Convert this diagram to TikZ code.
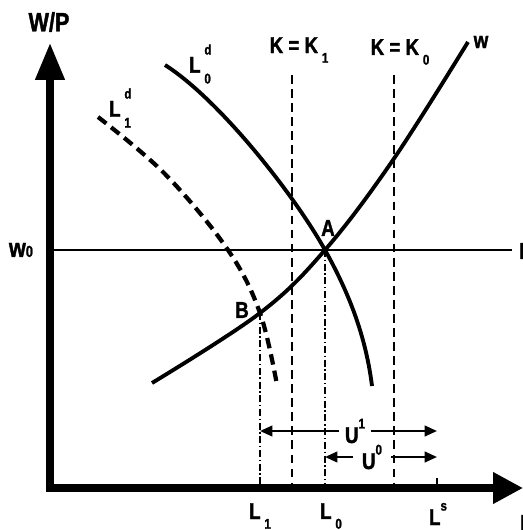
\documentclass[tikz,border=0pt]{standalone}
\usepackage{fontspec}
\setmainfont{Liberation Sans}[FakeStretch=0.82,BoldFeatures={FakeBold=1.5}]
\usetikzlibrary{arrows.meta}
% small indices placed as in the figure
\newcommand{\lowix}[1]{\,\raisebox{-0.8ex}{\footnotesize#1}}
\newcommand{\highix}[1]{\raisebox{1.2ex}{\footnotesize#1}}
\newcommand{\stackix}[2]{\,\makebox[0pt][l]{\raisebox{1.5ex}{\footnotesize#1}}\raisebox{-0.9ex}{\footnotesize#2}}
\tikzset{
  % heavy axes with big heads
  axisline/.style={line width=4pt,line join=miter,
    {Triangle[length=21pt,width=16pt]}-{Triangle[length=17pt,width=17pt]}},
  % demand / supply curves
  curve/.style={line width=2.2pt},
  dcurve/.style={line width=2.4pt,dash pattern=on 6pt off 3.5pt},
  % real wage line
  hline/.style={line width=0.8pt},
  % capital constraints
  kline/.style={line width=1pt,dash pattern=on 5pt off 3pt},
  % employment drop lines
  lline/.style={line width=1pt,dash pattern=on 4pt off 1.5pt on 0.8pt off 1.5pt},
  tickline/.style={line width=1.2pt},
  % unemployment arrows
  uarr/.style={-{Triangle[length=7pt,width=6pt]},line width=1.3pt},
  lbl/.style={font=\fontsize{13}{15}\selectfont\bfseries,inner sep=2pt},
}
\begin{document}
\begin{tikzpicture}[x=0.02cm,y=-0.02cm]
  \useasboundingbox (0,0) rectangle (523,530);
  \coordinate (O) at (50,488);
  \coordinate (ytip) at (50,43);
  \coordinate (xtip) at (523,488);
  \coordinate (A) at (325,250);
  \coordinate (B) at (260,313);
  \coordinate (L1) at (B |- O);
  \coordinate (L0) at (A |- O);
  \coordinate (Ls) at (437,488);
  \coordinate (K1top) at (292,75);
  \coordinate (K0top) at (394,75);
  \coordinate (wzero) at (50,250);
  \coordinate (wend) at (512,250);

  \draw[hline] (wzero) -- (wend);
  \draw[kline] (K1top) -- (K1top |- O);
  \draw[kline] (K0top) -- (K0top |- O);
  \draw[lline] (B) -- (L1);
  \draw[lline] (A) -- (L0);
  \draw[tickline] (Ls) -- ++(0,-10);

  % curves
  \draw[curve] plot[smooth,tension=0.6] coordinates
    {(152,383) (B) (A) (393,160) (468,42)};
  \draw[curve] (165,65) .. controls (220,100) and (295,196) .. (A)
    .. controls (345,286) and (365,330) .. (372,386);
  \draw[dcurve] plot[smooth,tension=0.6] coordinates
    {(98,117) (165,174) (228,250) (B) (277,385)};

  \draw[axisline] (ytip) -- (O) -- (xtip);

  % labels
  \node[lbl,font=\fontsize{15}{17}\selectfont\bfseries] (wp) at (49,22) {W/P};
  \node[lbl,font=\fontsize{15}{17}\selectfont\bfseries] (w0) at (21,250) {w{\small 0}};
  \node[lbl] (wlab) at (481,42) {w};
  \node[lbl] (Alab) at (328,228) {A};
  \node[lbl] (Blab) at (242,310) {B};
  \node[lbl] (k1lab) at (299,50) {K = K\lowix{1}};
  \node[lbl] (k0lab) at (400,52) {K = K\lowix{0}};
  \node[lbl] (l0d) at (200,64) {L\stackix{d}{0}};
  \node[lbl] (l1d) at (120,108) {L\stackix{d}{1}};

  \node[lbl,inner sep=3pt] (u1) at (355,431) {U\highix{1}};
  \node[lbl,inner sep=5pt] (u0) at (372,457) {U\highix{0}};
  \draw[uarr] (u1) -- (u1 -| L1);
  \draw[uarr] (u1) -- (u1 -| Ls);
  \draw[uarr] (u0) -- (u0 -| L0);
  \draw[uarr] (u0) -- (u0 -| Ls);

  \node[lbl] (l1lab) at (260,516) {L\lowix{1}};
  \node[lbl] (l0lab) at (331,516) {L\lowix{0}};
  \node[lbl] (lslab) at (438,514) {L\highix{s}};
  \node[lbl,anchor=west,inner sep=0pt] (edgea) at (519,251) {L};
  \node[lbl,anchor=west,inner sep=0pt] (edgeb) at (520,523) {L};
\end{tikzpicture}
\end{document}
